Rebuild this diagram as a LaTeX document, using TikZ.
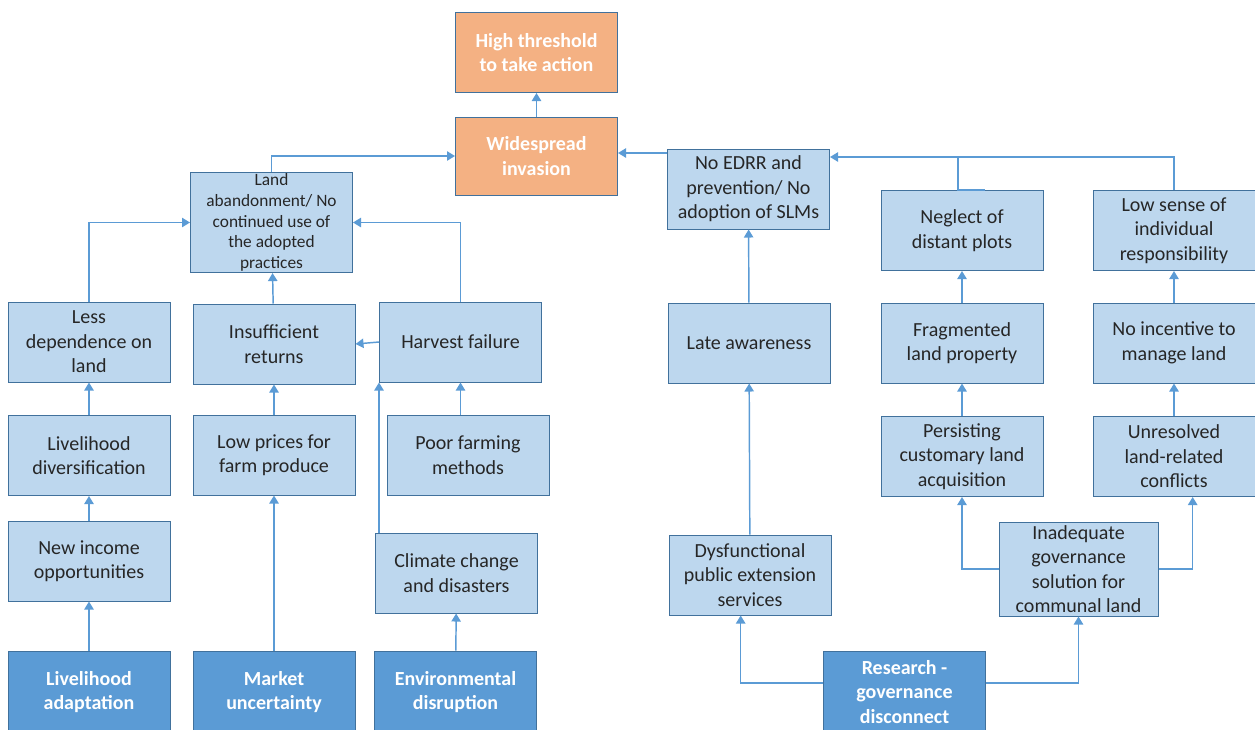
\documentclass[tikz,border=0pt]{standalone}
\usepackage{fontspec}
\setmainfont{Carlito}
\usetikzlibrary{arrows.meta}
\definecolor{boxfill}{HTML}{BDD7EE}
\definecolor{boxline}{HTML}{41719C}
\definecolor{linkblue}{HTML}{5B9BD5}
\definecolor{goalfill}{HTML}{F4B183}
\definecolor{rootfill}{HTML}{5B9BD5}
\begin{document}
\begin{tikzpicture}[x=0.75pt,y=-0.75pt,
  box/.style={draw=boxline, line width=0.75pt, fill=boxfill, align=center, minimum width=121.5pt, minimum height=60pt, inner sep=1pt, text=black!85, font=\fontsize{15}{18.4}\selectfont},
  goal/.style={box, fill=goalfill, text=white, font=\fontsize{15}{18.4}\selectfont\bfseries},
  root/.style={box, fill=rootfill, text=white, minimum height=61.5pt, font=\fontsize{15}{18.4}\selectfont\bfseries},
  link/.style={draw=linkblue, line width=1.1pt},
  arr/.style={link, -{Triangle[width=7pt,length=6pt]}}]
\clip (0,0) rectangle (1255,729);
\node[goal] (threshold) at (536.5,52.5){High threshold\\to take action};
\node[goal, minimum height=58.5pt] (invasion) at (536.5,156){Widespread\\invasion};
\node[box, minimum height=72.75pt, font=\fontsize{13}{15.5}\selectfont] (abandon) at (271.5,222.5){Land\\abandonment/ No\\continued use of\\the adopted\\practices};
\node[box] (edrr) at (748.5,189){No EDRR and\\prevention/ No\\adoption of SLMs};
\node[box] (neglect) at (962,230.5){Neglect of\\distant plots};
\node[box] (lowsense) at (1174,230.5){Low sense of\\individual\\responsibility};
\node[box] (lessdep) at (89,342){Less\\dependence on\\land};
\node[box] (returns) at (274,344){Insufficient\\returns};
\node[box] (harvest) at (460.5,342){Harvest failure};
\node[box] (late) at (749,343){Late awareness};
\node[box] (fragment) at (962,343){Fragmented\\land property};
\node[box] (incentive) at (1174,343){No incentive to\\manage land};
\node[box] (diversif) at (89,455.5){Livelihood\\diversification};
\node[box] (prices) at (274,455){Low prices for\\farm produce};
\node[box] (farming) at (468,455){Poor farming\\methods};
\node[box] (persist) at (962,456.5){Persisting\\customary land\\acquisition};
\node[box] (unresolved) at (1174,456.5){Unresolved\\land-related\\conflicts};
\node[box] (income) at (89,561){New income\\opportunities};
\node[box] (climate) at (456.5,573){Climate change\\and disasters};
\node[box] (dysf) at (750,575){Dysfunctional\\public extension\\services};
\node[box, minimum width=119.25pt, minimum height=70.5pt] (inadeq) at (1078.5,569){Inadequate\\governance\\solution for\\communal land};
\node[root] (adapt) at (89,692){Livelihood\\adaptation};
\node[root] (market) at (274,692){Market\\uncertainty};
\node[root] (envdis) at (455.5,692){Environmental\\disruption};
\node[root] (research) at (904.5,692){Research -\\governance\\disconnect};
% left branch
\draw[arr] (invasion) -- (threshold);
\draw[arr] (abandon.north) |- (invasion.west);
\draw[arr] (lessdep.north) |- (abandon.west);
\draw[arr] (returns) -- (abandon);
\draw[arr] (harvest.north) |- (abandon.east);
\draw[arr] (harvest.west) -- (returns.east);
\draw[arr] (diversif) -- (lessdep);
\draw[arr] (prices) -- (returns);
\draw[arr] (farming.north -| harvest.north) -- (harvest.south);
\draw[arr] (climate.north -| harvest.south west) -- (harvest.south west);
\draw[arr] (income) -- (diversif);
\draw[arr] (adapt) -- (income);
\draw[arr] (market) -- (prices);
\draw[arr] (envdis) -- (climate);
% right branch
\draw[arr] (edrr.west |- 0,153) -- (invasion.east |- 0,153);
\draw[link] (lowsense.north) -- (lowsense.north |- 0,157) -- (neglect.north |- 0,157);
\draw[link] ([xshift=17pt]neglect.north) -- ([xshift=-3pt]neglect.north) -- ([xshift=-3pt]neglect.north |- 0,157);
\draw[arr] (neglect.north |- 0,157) -- (edrr.east |- 0,157);
\draw[arr] (late) -- (edrr);
\draw[arr] (dysf) -- (late);
\draw[arr] (fragment) -- (neglect);
\draw[arr] (persist) -- (fragment);
\draw[arr] (incentive) -- (lowsense);
\draw[arr] (unresolved) -- (incentive);
\draw[arr] (inadeq.west) -| (persist.south);
\draw[arr] (inadeq.east) -| ([xshift=14pt]unresolved.south);
\draw[arr] (research.west |- 0,683) -| ([xshift=-7pt]dysf.south);
\draw[arr] (research.east |- 0,683) -| (inadeq.south);
\end{tikzpicture}
\end{document}
